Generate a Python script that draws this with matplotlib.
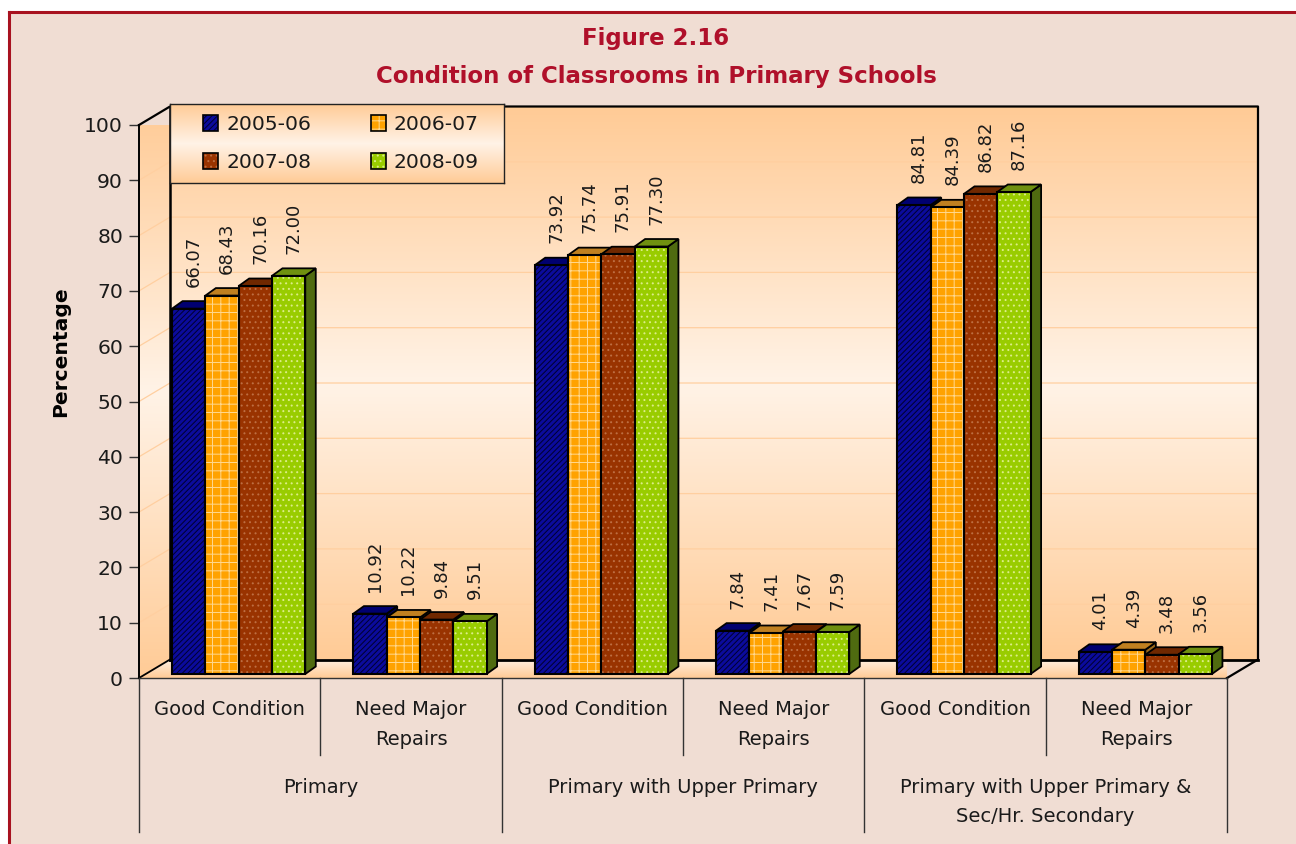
from matplotlib import pyplot as plt
from matplotlib.colors import LinearSegmentedColormap
from matplotlib.legend_handler import HandlerTuple
from matplotlib.patches import Patch, Polygon, Rectangle
import numpy as np

W_PX = 1296
H_PX = 844
X0_PX, X1_PX = 139, 1227
Y0_PX, Y100_PX = 678, 125

PANEL = "#f0ddd3"
BORDER = "#a8121f"
TITLE_RED = "#b0102a"
TEXT = "#1a1a1a"

groups = ["Primary", "Primary with Upper Primary", "Primary with Upper Primary &\nSec/Hr. Secondary"]
categories = ["Good Condition", "Need Major\nRepairs"] * 3
years = ["2005-06", "2006-07", "2007-08", "2008-09"]

v_2005 = [66.07, 10.92, 73.92, 7.84, 84.81, 4.01]
v_2006 = [68.43, 10.22, 75.74, 7.41, 84.39, 4.39]
v_2007 = [70.16, 9.84, 75.91, 7.67, 86.82, 3.48]
v_2008 = [72.00, 9.51, 77.30, 7.59, 87.16, 3.56]
series = [v_2005, v_2006, v_2007, v_2008]

front_cols = ["#0b0b9c", "#ffa200", "#993300", "#99cc00"]
hatch_cols = ["#000030", "#ffd890", "#bd6e42", "#dcec88"]
hatches = ["//////", "++", "...", "..."]
top_cols = ["#000070", "#c08020", "#702800", "#6f9010"]
side_cols = ["#00004c", "#99681a", "#5a2000", "#4f6b10"]

# one pixel in data units, depth of the box and of the bars
PX_X = 6 / (X1_PX - X0_PX)
PX_Y = 100 / (Y0_PX - Y100_PX)
WALL_DX = 31 * PX_X
WALL_DY = 18.5 * PX_Y
BAR_DX = 10.5 * PX_X
BAR_DY = 7.5 * PX_Y
BAR_W = 33.3 * PX_X
BAR_SHIFT = 9 * PX_X
BAR_BASE = 4 * PX_Y

plt.rcParams["font.family"] = ["DejaVu Sans"]
plt.rcParams["hatch.linewidth"] = 0.7

glow = LinearSegmentedColormap.from_list("glow", ["#ffcb96", "#fff3e7", "#ffcb96"])
grad = np.linspace(0, 1, 256).reshape(-1, 1)

fig = plt.figure(figsize=(W_PX / 100, H_PX / 100), dpi=100, facecolor="white")
fig.add_artist(Rectangle((9 / W_PX, 0), 1, 1 - 12 / H_PX, transform=fig.transFigure,
                         facecolor=PANEL, edgecolor="none", zorder=-2))
fig.add_artist(plt.Line2D([9 / W_PX, 9 / W_PX], [0, 1 - 12 / H_PX], color=BORDER, lw=2.2, zorder=-1))
fig.add_artist(plt.Line2D([9 / W_PX, 1], [1 - 12 / H_PX, 1 - 12 / H_PX], color=BORDER, lw=2.2, zorder=-1))

ax = fig.add_axes([X0_PX / W_PX, 1 - Y0_PX / H_PX, (X1_PX - X0_PX) / W_PX, (Y0_PX - Y100_PX) / H_PX])
ax.patch.set_visible(False)
for s in ax.spines.values():
    s.set_visible(False)

# back wall, left wall, floor
ax.imshow(grad, cmap=glow, aspect="auto", extent=(WALL_DX, 6 + WALL_DX, WALL_DY, 100 + WALL_DY),
          zorder=1, clip_on=False)
left = Polygon([(0, 0), (WALL_DX, WALL_DY), (WALL_DX, 100 + WALL_DY), (0, 100)], transform=ax.transData,
               facecolor="none", edgecolor="none")
ax.add_patch(left)
left.set_clip_on(False)
im = ax.imshow(grad, cmap=glow, aspect="auto", extent=(0, WALL_DX, 0, 100 + WALL_DY), zorder=1)
im.set_clip_path(left)
floor_cm = LinearSegmentedColormap.from_list("floor", ["#fff0e2", "#ffcb96"])
floor = Polygon([(0, 0), (6, 0), (6 + WALL_DX, WALL_DY), (WALL_DX, WALL_DY)], transform=ax.transData,
                facecolor="none", edgecolor="none")
ax.add_patch(floor)
floor.set_clip_on(False)
im = ax.imshow(grad, cmap=floor_cm, aspect="auto", extent=(0, 6 + WALL_DX, 0, WALL_DY), zorder=1)
im.set_clip_path(floor)

# gridlines run along the left wall and the back wall
for v in range(10, 100, 10):
    ax.plot([0, WALL_DX, 6 + WALL_DX], [v, v + WALL_DY, v + WALL_DY], color="#ffcfa0", lw=0.9,
            zorder=2, clip_on=False)

# box edges
ax.plot([0, WALL_DX, 6 + WALL_DX, 6 + WALL_DX, 6], [100, 100 + WALL_DY, 100 + WALL_DY, WALL_DY, 0],
        color="black", lw=1.6, zorder=2, clip_on=False)
ax.plot([WALL_DX, 6 + WALL_DX], [WALL_DY, WALL_DY], color="black", lw=2, zorder=2, clip_on=False)
ax.plot([WALL_DX, WALL_DX], [WALL_DY, 100 + WALL_DY], color="black", lw=1.8, zorder=2, clip_on=False)
ax.plot([0, WALL_DX], [0, WALL_DY], color="black", lw=1.3, zorder=2, clip_on=False)
ax.plot([0, 0], [0, 100], color="black", lw=1.4, zorder=2, clip_on=False)

# bars, left to right so each one hides the side of the one before
z = 3
for c in range(len(categories)):
    start = c + 0.5 + BAR_SHIFT - 2 * BAR_W
    for k, vals in enumerate(series):
        v = vals[c]
        x = start + k * BAR_W
        top = v + BAR_BASE
        ax.add_patch(Polygon([(x + BAR_W, BAR_BASE), (x + BAR_W + BAR_DX, BAR_BASE + BAR_DY),
                              (x + BAR_W + BAR_DX, top + BAR_DY), (x + BAR_W, top)],
                             facecolor=side_cols[k], edgecolor="black", lw=1.3, zorder=z, clip_on=False))
        ax.add_patch(Polygon([(x, top), (x + BAR_DX, top + BAR_DY), (x + BAR_W + BAR_DX, top + BAR_DY),
                              (x + BAR_W, top)],
                             facecolor=top_cols[k], edgecolor="black", lw=1.3, zorder=z, clip_on=False))
        ax.bar(x, v, BAR_W, bottom=BAR_BASE, align="edge", color=front_cols[k], edgecolor=hatch_cols[k],
               hatch=hatches[k], linewidth=0, zorder=z, clip_on=False)
        ax.bar(x, v, BAR_W, bottom=BAR_BASE, align="edge", fill=False, edgecolor="black",
               linewidth=1.5, zorder=z, clip_on=False)
        ax.annotate(f"{v:.2f}", (x + BAR_W / 2, top), xytext=(5, 22), textcoords="offset pixels",
                    rotation=90, ha="center", va="bottom", fontsize=13, color=TEXT, zorder=20)
        z += 1

ax.set_xlim(0, 6)
ax.set_ylim(0, 100)
ax.set_xticks([])
ax.set_yticks(range(0, 101, 10))
ax.tick_params(axis="y", length=7.5, width=1, color="#333333", labelsize=14.6, labelcolor=TEXT, pad=4)
ax.set_ylabel("Percentage", fontsize=14.6, fontweight="bold", color="black", labelpad=0)
ax.yaxis.set_label_coords(-69 / (X1_PX - X0_PX), 0.59)

# two level category axis under the chart
ax.plot([0, 6], [0, 0], color="#333333", lw=1, zorder=2, clip_on=False)
for i in range(7):
    low = (Y0_PX - 832) * PX_Y if i % 2 == 0 else (Y0_PX - 755) * PX_Y
    ax.plot([i, i], [0, low], color="#333333", lw=1, clip_on=False)
for i, label in enumerate(categories):
    ax.text(i + 0.5, -4.0, label, ha="center", va="top", fontsize=14, color=TEXT, linespacing=1.72)
for i, label in enumerate(groups):
    ax.text(2 * i + 1, -18.0, label, ha="center", va="top", fontsize=14, color=TEXT, linespacing=1.72)
ax.set_xlim(0, 6)
ax.set_ylim(0, 100)

fig.text(656 / W_PX, 1 - 39 / H_PX, "Figure 2.16", ha="center", va="center", fontsize=16.5,
         fontweight="bold", color=TITLE_RED)
fig.text(656 / W_PX, 1 - 77 / H_PX, "Condition of Classrooms in Primary Schools", ha="center", va="center",
         fontsize=16.5, fontweight="bold", color=TITLE_RED)

# legend with its own gradient box
leg_ax = fig.add_axes([170 / W_PX, 1 - 183 / H_PX, 334 / W_PX, 79 / H_PX], zorder=30)
leg_ax.imshow(grad, cmap=glow, aspect="auto")
leg_ax.set_xticks([])
leg_ax.set_yticks([])
for s in leg_ax.spines.values():
    s.set_linewidth(1)
    s.set_edgecolor("#222222")
handles = [(Patch(facecolor=front_cols[k], edgecolor=hatch_cols[k], hatch=hatches[k], lw=0),
            Patch(fill=False, edgecolor="black", lw=1.2)) for k in range(4)]
order = [0, 2, 1, 3]
leg_ax.legend([handles[k] for k in order], [years[k] for k in order], ncol=2, loc="center",
              bbox_to_anchor=(0.512, 0.5), frameon=False,
              fontsize=14.6, handlelength=0.72, handleheight=0.8, handletextpad=0.4, columnspacing=2.95,
              labelspacing=0.95, labelcolor=TEXT, handler_map={tuple: HandlerTuple(ndivide=1, pad=0)})

fig.savefig("out.png", dpi=100)
plt.close(fig)
